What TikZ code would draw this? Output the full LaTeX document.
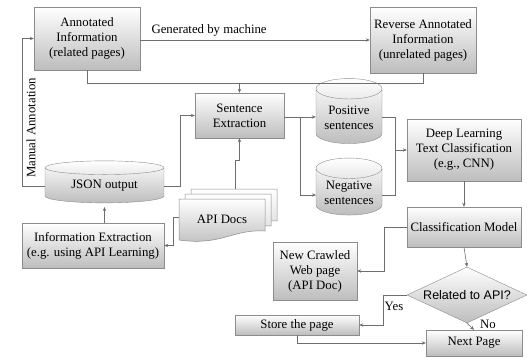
\documentclass[tikz,border=0pt]{standalone}
\usepackage{fontspec}
\setmainfont{Liberation Serif}
\newfontfamily\sansf{Liberation Sans}
\usetikzlibrary{shapes.geometric,arrows.meta,calc}
\definecolor{boxgray}{HTML}{8C8C8C}
\definecolor{linegray}{HTML}{6E6E6E}
\definecolor{shadegray}{HTML}{BDBDBD}
\begin{document}
\begin{tikzpicture}[x=1pt,y=-1pt,
  txt/.style={font=\fontsize{12.8}{15}\selectfont, text=black},
  box/.style={txt, draw=boxgray, top color=white, bottom color=shadegray, inner sep=1pt, align=center},
  cyl/.style={txt, cylinder, shape border rotate=90, draw=boxgray, top color=white, bottom color=shadegray, inner sep=1pt, align=center},
  conn/.style={draw=linegray, line width=0.6pt},
  arr/.style={conn, -{Stealth[length=4pt,width=3.4pt]}},
  lbl/.style={txt, inner sep=0pt}
]
\useasboundingbox (0,0) rectangle (527,357);

% boxes
\node[box, minimum width=106pt, minimum height=63pt] (ann) at (87,38.5) {Annotated\\Information\\(related pages)};
\node[box, minimum width=106pt, minimum height=66pt] (rev) at (423,40) {Reverse Annotated\\Information\\(unrelated pages)};
\node[box, minimum width=89pt, minimum height=45pt] (sent) at (239.5,115.5) {Sentence\\Extraction};
\node[cyl, minimum width=119pt, minimum height=42pt, aspect=0.2] (json) at (104.5,186) {JSON output};
\node[box, minimum width=142pt, minimum height=45pt] (info) at (93,245.5) {Information Extraction\\(e.g. using API Learning)};
\node[cyl, minimum width=66pt, minimum height=65pt, aspect=0.4] (pos) at (349,117.5) {Positive\\sentences};
\node[cyl, minimum width=66pt, minimum height=57pt, aspect=0.4] (neg) at (349,193) {Negative\\sentences};
\node[box, minimum width=114pt, minimum height=62pt] (deep) at (464,150) {Deep Learning\\Text Classification\\(e.g., CNN)};
\node[box, minimum width=114pt, minimum height=40pt] (cls) at (464,227) {Classification Model};
\node[box, minimum width=84pt, minimum height=58pt] (new) at (315,271) {New Crawled\\Web page\\(API Doc)};
\node[diamond, aspect=2.14, draw=boxgray, top color=white, bottom color=shadegray, minimum width=120pt, minimum height=56pt, inner sep=0pt, font=\sansf\fontsize{12.5}{14}\selectfont] (dia) at (467,295) {Related to API?};
\node[box, minimum width=124pt, minimum height=20pt] (store) at (297,325) {Store the page};
\node[box, minimum width=96pt, minimum height=26pt] (next) at (474,343) {Next Page};

% API Docs (multi document)
\foreach \dx/\dy in {12/-10,6/-5} {
  \draw[draw=boxgray, top color=white, bottom color=shadegray!60, line width=0.5pt, shift={(\dx,\dy)}]
    (179,199) -- (265,199) -- (265,231) .. controls (232,229) and (222,246) .. (179,240) -- cycle;
}
\draw[draw=boxgray, top color=white, bottom color=shadegray, line width=0.5pt]
  (179,199) -- (265,199) -- (265,231) .. controls (232,229) and (222,246) .. (179,240) -- cycle;
\node[txt, inner sep=0pt] (api) at (222,219) {API Docs};
\coordinate (apitop) at (235,189);
\coordinate (apileft) at (179,217);

% connectors
\draw[arr] (ann.east |- rev.west) -- node[lbl, above=3pt, pos=0.30] (gen) {Generated by machine} (rev.west);
\coordinate (jsonW) at ($(json.center)+(-59.5,0)$);
\coordinate (jsonE) at ($(json.center)+(59.5,0)$);
\coordinate (jsonS) at ($(json.center)+(0,21)$);
\draw[arr] (jsonW) -- ++(-23,0) |- (ann.west);
\node[lbl, rotate=90] (man) at (31,128) {Manual Annotation};
\coordinate (j1) at (239.5,83);
\draw[conn] (ann.south) |- (j1);
\draw[conn] (rev.south) |- (j1);
\draw[arr] (j1) -- (sent.north);
\draw[arr] (jsonE) -- ++(16.5,0) |- (sent.west);
\draw[arr] (apitop) -- ++(0,-29) -| (sent.south);
\draw[arr] (apileft) -- ++(-6,0) |- (info.east);
\draw[arr] (jsonS |- info.north) -- (jsonS);
\coordinate (j2) at (300,117);
\draw[conn] (sent.east |- j2) -- (j2);
\draw[arr] (j2) -- (pos.west |- j2);
\draw[arr] (j2) |- ($(neg.center)+(-33,2)$);
\coordinate (j3) at (395,150);
\draw[conn] ($(pos.center)+(33,0)$) -| (j3);
\draw[conn] ($(neg.center)+(33,2)$) -| (j3);
\draw[arr] (j3) -- (deep.west);
\draw[arr] (deep.south) -- (cls.north);
\draw[arr] (cls.west) -- ++(-23,0) |- (new.east);
\draw[arr] (cls.south) -- (dia.north);
\draw[arr] (dia.west) -- ++(-24,0) |- (store.east);
\node[lbl] (yes) at (394,306) {Yes};
\draw[arr] (dia.south) -- (next.north);
\node[lbl] (no) at (488,324) {No};
\draw[arr] (store.south) |- (next.west);
\end{tikzpicture}
\end{document}
